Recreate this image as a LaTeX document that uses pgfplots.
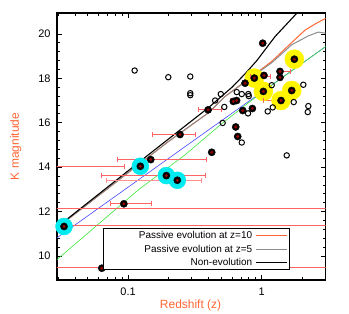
\documentclass[border=0pt]{standalone}
\usepackage{fontspec}
\setmainfont{Liberation Sans}
\usepackage{pgfplots}
\usepackage{pgfplotstable}
\pgfplotsset{compat=1.18}
\definecolor{lblorange}{RGB}{255,102,51}
\definecolor{zten}{RGB}{255,102,51}
\definecolor{zfive}{RGB}{140,140,140}
\definecolor{bluel}{RGB}{70,70,255}
\definecolor{greenl}{RGB}{60,230,60}
\definecolor{errred}{RGB}{255,100,100}
\definecolor{halocyan}{RGB}{0,235,240}
\definecolor{haloyellow}{RGB}{255,245,0}
\definecolor{ptcore}{RGB}{150,0,0}

\pgfplotstableread{
z K
0.0332 11.33
0.0636 9.45
0.1236 14.04
0.1479 14.34
0.1934 13.62
0.2336 13.41
0.245 15.47
0.093 12.35
0.4227 14.67
0.397 16.58
0.639 15.81
0.6614 15.38
0.721 16.55
0.851 16.64
0.613 16.96
0.649 17.0
1.017 19.58
1.754 18.86
0.880 18.01
0.75 17.78
1.04 18.13
1.37 18.31
1.37 18.04
1.028 17.41
1.676 17.45
1.394 17.0
}\filled

\pgfplotstableread{
z K
0.0332 11.33
0.1236 14.04
0.1934 13.62
0.2336 13.41
}\cyanhalo

\pgfplotstableread{
z K
1.754 18.86
0.880 18.01
1.028 17.41
1.676 17.45
1.394 17.0
}\yellowhalo

\pgfplotstableread{
z K
0.112 18.35
0.200 18.05
0.292 18.08
0.292 17.33
0.292 17.24
0.494 17.29
0.448 17.0
0.525 16.71
0.51 15.99
0.650 17.38
0.709 17.29
0.794 17.29
0.80 17.2
0.79 16.42
0.709 15.11
1.188 17.69
1.209 16.69
1.109 16.51
1.735 16.93
2.047 17.71
2.232 16.75
2.208 16.48
1.538 14.53
}\opencirc

\begin{document}
\begin{tikzpicture}
\begin{axis}[
  scale only axis, width=268.7bp, height=267bp,
  xmode=log, xmin=0.0294, xmax=3.01, ymin=8.92, ymax=20.94,
  xtick={0.1,1}, xticklabels={0.1,1},
  minor xtick={0.03,0.04,0.05,0.06,0.07,0.08,0.09,0.2,0.3,0.4,0.5,0.6,0.7,0.8,0.9,2,3},
  ytick={10,12,14,16,18,20}, minor y tick num=4,
  tick align=inside, major tick length=5bp, minor tick length=3bp,
  axis line style={line width=1.1bp},
  every tick/.style={black, line width=0.7bp},
  xlabel={Redshift (z)}, ylabel={K magnitude},
  label style={color=lblorange, font=\fontsize{12}{14}\selectfont},
  xlabel style={at={(axis description cs:0.497,-0.097)}, anchor=center},
  ylabel style={at={(axis description cs:-0.153,0.5)}, anchor=center},
  tick label style={font=\fontsize{11}{13}\selectfont},
  yticklabel style={xshift=-3bp},
  xticklabel style={yshift=-4bp},
  /pgf/number format/assume math mode=true,
  legend plot pos=right,
  legend cell align=right,
  legend image code/.code={\draw[#1] (0bp,0bp) -- (31bp,0bp);},
  legend style={at={(rel axis cs:0.171,0.193)}, anchor=north west,
    draw=black, line width=1bp, fill=white, inner xsep=2.7bp, inner ysep=0bp,
    font=\fontsize{10}{12}\selectfont, row sep=0bp,
    nodes={inner xsep=3bp, inner ysep=1.6bp, text height=8bp, text depth=2.3bp}},
]
% halos
\addplot[forget plot, only marks, mark=*, mark size=8.5bp, mark options={fill=halocyan, draw=halocyan}] table {\cyanhalo};
\addplot[forget plot, only marks, mark=*, mark size=9.5bp, mark options={fill=haloyellow, draw=haloyellow}] table {\yellowhalo};
% model curves
\addplot[forget plot, bluel, line width=0.6bp] coordinates {(0.0294,10.82) (3.01,19.43)};
\addplot[forget plot, greenl, line width=0.6bp] coordinates {(0.0294,9.84) (0.12,12.99) (0.27,14.58) (0.5,15.95) (1.0,17.36) (3.01,19.43)};
\addplot[zten, line width=1bp] coordinates {(0.0294,11.27) (0.2,15.15) (0.4,16.45) (0.531,17.18) (1.0,18.42) (1.188,18.76) (1.676,19.61) (2.11,20.17) (2.6,20.5) (3.01,20.7)};
\addlegendentry{\makebox[143bp][r]{Passive evolution at z=10}}
\addplot[zfive, line width=1bp] coordinates {(0.0294,11.27) (0.2,15.15) (0.4,16.45) (0.531,17.18) (1.0,18.38) (1.188,18.7) (1.676,19.51) (2.23,19.91) (2.65,20.08) (3.01,20.03)};
\addlegendentry{\makebox[143bp][r]{Passive evolution at z=5}}
\addplot[black, line width=1.1bp] coordinates {(0.0294,11.3) (0.159,14.79) (0.4,16.68) (0.6,17.6) (0.75,18.2) (0.92,18.8) (1.258,19.88) (1.837,20.94) (2.2,21.5)};
\addlegendentry{\makebox[143bp][r]{Non-evolution}}
% error bars
\pgfplotsset{errbar/.style={forget plot, color=errred, line width=0.8bp, mark=|, mark size=2.5bp, mark options={draw=errred, line width=0.8bp}}}
\addplot[errbar] coordinates {(0.01,12.16) (10,12.16)};
\addplot[errbar] coordinates {(0.01,11.37) (10,11.37)};
\addplot[errbar] coordinates {(0.01,9.47) (10,9.47)};
\addplot[errbar] coordinates {(0.0832,14.34) (0.388,14.34)};
\addplot[errbar] coordinates {(0.01,14.04) (0.0933,14.04)};
\addplot[errbar] coordinates {(0.0628,13.62) (0.377,13.62)};
\addplot[errbar, color=errred!70, mark options={draw=errred!70}] coordinates {(0.0693,13.39) (0.356,13.39)};
\addplot[errbar] coordinates {(0.0733,12.35) (0.1504,12.35)};
\addplot[errbar] coordinates {(0.152,15.48) (0.317,15.48)};
\addplot[errbar] coordinates {(0.3356,16.58) (0.502,16.58)};
\addplot[errbar] coordinates {(0.58,17.0) (0.66,17.0)};
\addplot[errbar] coordinates {(0.82,18.08) (1.153,18.08)};
\addplot[errbar] coordinates {(1.37,18.31) (1.63,18.31)};
\addplot[errbar] coordinates {(1.028,17.0) (1.394,17.0)};
% open circles
\addplot[forget plot, only marks, mark=o, mark size=2.7bp, mark options={draw=black, fill=white, line width=1bp}] table {\opencirc};
% filled points
\addplot[forget plot, only marks, mark=*, mark size=3.6bp, mark options={fill=black, draw=black}] table {\filled};
\addplot[forget plot, only marks, mark=*, mark size=1.3bp, mark options={fill=ptcore, draw=ptcore}] table {\filled};
\end{axis}
\pgfresetboundingbox
\path[use as bounding box] (current axis.south west) ++(-57bp,-34bp) rectangle ++(349bp,314bp);
\end{tikzpicture}
\end{document}
